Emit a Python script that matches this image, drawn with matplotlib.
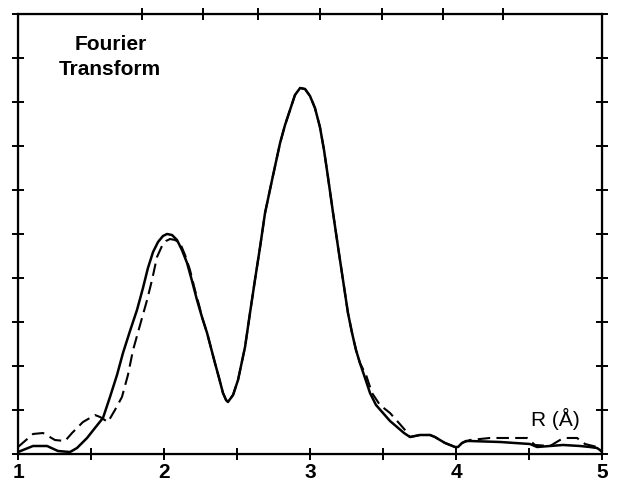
import matplotlib
matplotlib.use("Agg")
import matplotlib.pyplot as plt

# Solid curve (Fourier transform magnitude)
solid_r = [1.000, 1.103, 1.199, 1.274, 1.356, 1.404, 1.473, 1.527, 1.582, 1.630, 1.678, 1.719,
           1.767, 1.815, 1.856, 1.890, 1.925, 1.959, 1.993, 2.021, 2.055, 2.089, 2.123, 2.158,
           2.192, 2.226, 2.260, 2.295, 2.322, 2.349, 2.377, 2.404, 2.425, 2.438, 2.473, 2.507,
           2.555, 2.589, 2.623, 2.658, 2.692, 2.740, 2.795, 2.829, 2.863, 2.897, 2.932, 2.966,
           3.000, 3.034, 3.068, 3.096, 3.123, 3.158, 3.192, 3.226, 3.260, 3.288, 3.315, 3.342,
           3.377, 3.411, 3.452, 3.500, 3.548, 3.596, 3.644, 3.685, 3.719, 3.753, 3.822, 3.856,
           3.890, 3.925, 3.959, 3.993, 4.014, 4.041, 4.068, 4.096, 4.301, 4.507, 4.555, 4.733,
           4.849, 4.918, 4.966, 4.986, 5.000]
solid_y = [0.045, 0.182, 0.182, 0.068, 0.045, 0.136, 0.364, 0.591, 0.818, 1.295, 1.795, 2.295,
           2.795, 3.273, 3.773, 4.227, 4.591, 4.818, 4.955, 5.000, 4.977, 4.864, 4.636, 4.341,
           3.932, 3.500, 3.114, 2.750, 2.409, 2.068, 1.727, 1.386, 1.227, 1.182, 1.341, 1.682,
           2.432, 3.205, 3.955, 4.705, 5.477, 6.227, 7.068, 7.477, 7.818, 8.159, 8.318, 8.295,
           8.136, 7.864, 7.432, 6.909, 6.295, 5.477, 4.705, 3.955, 3.205, 2.750, 2.364, 2.068,
           1.727, 1.386, 1.114, 0.932, 0.750, 0.614, 0.477, 0.386, 0.409, 0.432, 0.432, 0.386,
           0.318, 0.250, 0.205, 0.159, 0.159, 0.250, 0.295, 0.295, 0.273, 0.227, 0.159, 0.205,
           0.182, 0.159, 0.136, 0.091, 0.045]

# Dashed curve
dash_r = [1.000, 1.103, 1.171, 1.253, 1.322, 1.370, 1.445, 1.527, 1.562, 1.616, 1.664, 1.712,
          1.753, 1.788, 1.836, 1.884, 1.918, 1.952, 1.986, 2.014, 2.041, 2.075, 2.110, 2.144,
          2.178, 2.212, 2.240, 2.260, 2.295, 2.322, 2.349, 2.377, 2.404, 2.425, 2.438, 2.473,
          2.507, 2.555, 2.589, 2.623, 2.658, 2.692, 2.740, 2.795, 2.829, 2.863, 2.897, 2.932,
          2.966, 3.000, 3.034, 3.068, 3.096, 3.123, 3.158, 3.192, 3.226, 3.260, 3.288, 3.315,
          3.342, 3.384, 3.425, 3.479, 3.548, 3.603, 3.651, 3.685, 3.719, 3.753, 3.822, 3.856,
          3.890, 3.925, 3.959, 3.993, 4.014, 4.041, 4.096, 4.233, 4.370, 4.486, 4.541, 4.644,
          4.712, 4.747, 4.829, 4.884, 4.966, 5.000]
dash_y = [0.159, 0.455, 0.477, 0.318, 0.295, 0.477, 0.727, 0.886, 0.841, 0.727, 1.000, 1.295,
          1.795, 2.364, 2.932, 3.500, 3.955, 4.477, 4.727, 4.841, 4.886, 4.864, 4.795, 4.523,
          4.182, 3.727, 3.386, 3.114, 2.750, 2.409, 2.068, 1.727, 1.386, 1.227, 1.182, 1.341,
          1.682, 2.432, 3.205, 3.955, 4.705, 5.477, 6.227, 7.068, 7.477, 7.818, 8.159, 8.318,
          8.295, 8.136, 7.864, 7.432, 6.909, 6.295, 5.477, 4.705, 3.955, 3.205, 2.750, 2.364,
          2.068, 1.795, 1.386, 1.114, 0.932, 0.727, 0.545, 0.386, 0.409, 0.432, 0.432, 0.386,
          0.318, 0.250, 0.205, 0.159, 0.159, 0.250, 0.318, 0.364, 0.364, 0.364, 0.205, 0.182,
          0.318, 0.364, 0.364, 0.227, 0.159, 0.091]

x_major = [1, 2, 3, 4, 5]
x_labels = ["1", "2", "3", "4", "5"]
x_minor = [1.5, 2.5, 3.5, 4.5]
top_ticks = [1.849, 2.267, 2.644, 3.068, 3.493, 3.911, 4.322]
y_ticks = list(range(0, 11))

fig = plt.figure(figsize=(6.28, 4.96), dpi=100)
ax = fig.add_axes([18/628, 42/496, 584/628, 440/496])

ax.plot(dash_r, dash_y, color="black", lw=1.5, dashes=(6, 3))
ax.plot(solid_r, solid_y, color="black", lw=1.8, solid_joinstyle="round")

ax.set_xlim(1, 5)
ax.set_ylim(0, 10)

for s in ax.spines.values():
    s.set_linewidth(1.6)

ax.set_xticks(x_major)
ax.set_xticklabels(x_labels, fontfamily="Liberation Sans", fontweight="bold", fontsize=15)
ax.set_xticks(x_minor, minor=True)
ax.set_yticks(y_ticks)
ax.set_yticklabels([])
ax.tick_params(axis="x", which="both", direction="inout", length=9, width=1.4, pad=2)
ax.tick_params(axis="y", which="both", direction="inout", length=9, width=1.4,
               left=True, right=True)

top = ax.twiny()
top.set_xlim(1, 5)
top.set_xticks(top_ticks)
top.set_xticklabels([])
top.tick_params(axis="x", direction="inout", length=9, width=1.4)

ax.text(0.158, 0.902, "Fourier\nTransform", transform=ax.transAxes, ha="center", va="center",
        fontfamily="Liberation Sans", fontweight="bold", fontsize=15, linespacing=1.4)
ax.text(0.92, 0.08, "R (Å)", transform=ax.transAxes, ha="center", va="center",
        fontfamily="Liberation Sans", fontsize=15)

fig.savefig("out.png", dpi=100)
